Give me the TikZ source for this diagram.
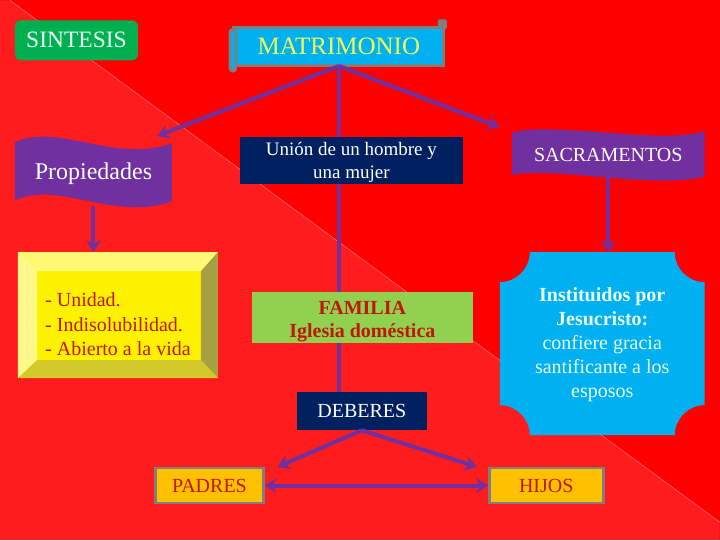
\documentclass[tikz,border=0pt]{standalone}
\usepackage{fontspec}
\setmainfont{Liberation Serif}
\usetikzlibrary{arrows.meta,calc}

\definecolor{fondo}{HTML}{FF0000}
\definecolor{fondoclaro}{HTML}{FF1C1C}
\definecolor{verde}{HTML}{00B050}
\definecolor{celeste}{HTML}{00B0F0}
\definecolor{gris}{HTML}{7F7F7F}
\definecolor{marino}{HTML}{002060}
\definecolor{morado}{HTML}{7030A0}
\definecolor{pasto}{HTML}{92D050}
\definecolor{naranja}{HTML}{FFC000}
\definecolor{rojotexto}{HTML}{C01800}
\definecolor{amarillotexto}{HTML}{EEFF55}
\definecolor{claro}{HTML}{E8FFF6}

\begin{document}
\begin{tikzpicture}[x=1pt,y=-1pt,
    caja/.style={inner sep=0pt,align=center,font=\fontsize{20}{24}\selectfont},
    titulo/.style={caja,font=\fontsize{24}{28}\selectfont},
    conector/.style={draw=morado,line width=4pt},
    flecha/.style={conector,-{Stealth[length=12pt,width=15pt]}}]

    % fondo
    \fill[fondo] (0,0) rectangle (720,540);
    \fill[fondoclaro] (10,0) -- (720,522) -- (720,540) -- (0,540) -- (0,0) -- cycle;
    \draw[white!40!fondo,line width=0.6pt] (10,0) -- (720,522);

    % formas
    \draw[gris,line width=3pt,fill=celeste] (234,27) rectangle (444,65);
    \draw[gris,line width=2.5pt,fill=celeste,rounded corners=3pt] (230,29) rectangle (236,71);
    \fill[gris,rounded corners=2pt] (438,19) rectangle (447,29);

    \fill[morado] (15,142) .. controls (60,122) and (115,164) .. (172,143)
        -- (172,201) .. controls (115,222) and (60,180) .. (15,200) -- cycle;
    \fill[morado] (512,133) .. controls (545,120) and (660,145) .. (705,131)
        -- (705,176) .. controls (660,190) and (545,165) .. (512,175) -- cycle;

    \fill[yellow] (18,252) rectangle (218,378);
    \fill[yellow!55!white] (18,252) -- (218,252) -- (201,271) -- (37,271) -- cycle;
    \fill[yellow!45!white] (18,252) -- (37,271) -- (37,360) -- (18,378) -- cycle;
    \fill[yellow!60!black] (218,252) -- (218,378) -- (201,360) -- (201,271) -- cycle;
    \fill[yellow!80!black] (18,378) -- (218,378) -- (201,360) -- (37,360) -- cycle;

    \fill[celeste] (530,252) -- (675,252) .. controls (675,268.5) and (688.5,282) .. (705,282)
        -- (705,405) .. controls (688.5,405) and (675,418.5) .. (675,435)
        -- (530,435) .. controls (530,418.5) and (516.5,405) .. (500,405)
        -- (500,282) .. controls (516.5,282) and (530,268.5) .. (530,252) -- cycle;

    % nodos
    \node[titulo,font=\fontsize{23.5}{28}\selectfont,fill=verde,rounded corners=6pt,text=claro,minimum width=123,minimum height=40] (sintesis) at (76.5,40) {SINTESIS};
    \node[titulo,font=\fontsize{25}{28}\selectfont,text=amarillotexto,minimum width=209,minimum height=39] (matri) at (339,46) {MATRIMONIO};
    \node[titulo,text=white,minimum width=157,minimum height=58] (prop) at (93.5,174) {Propiedades};
    \node[caja,text=white,minimum width=193,minimum height=44] (sac) at (608.5,155) {SACRAMENTOS};
    \node[caja,fill=marino,minimum width=223,minimum height=47] (union) at (351.5,160.5) {};
    \node[caja,text=white,font=\fontsize{19}{23}\selectfont] (uniontexto) at ([yshift=-2pt]union.center) {Unión de un hombre y\\una mujer};
    \node[caja,align=left,text=rojotexto,font=\fontsize{20}{24.5}\selectfont] (props) at (118,324) {- Unidad.\\- Indisolubilidad.\\- Abierto a la vida};
    \node[caja,fill=pasto,minimum width=221,minimum height=51] (familia) at (362.5,317.5) {};
    \node[caja,text=rojotexto,font=\bfseries\fontsize{20}{23}\selectfont] (familiatexto) at ([yshift=-4pt]familia.center) {FAMILIA\\Iglesia doméstica};
    \node[caja,text=claro] (sacdesc) at (602.5,345) {\textbf{Instituidos por}\\\textbf{Jesucristo:}\\confiere gracia\\santificante a los\\esposos};
    \node[caja,fill=marino,text=white,minimum width=130,minimum height=38] (deberes) at (362,411) {DEBERES};
    \node[caja,fill=naranja,draw=gris,line width=2.5pt,text=rojotexto,minimum width=108,minimum height=35] (padres) at (209.5,485.5) {PADRES};
    \node[caja,fill=naranja,draw=gris,line width=2.5pt,text=rojotexto,minimum width=114,minimum height=35] (hijos) at (546.5,485.5) {HIJOS};

    % conectores
    \draw[flecha] (matri.south) -- ([xshift=-15pt,yshift=9pt]prop.north east);
    \draw[flecha] (matri.south) -- ([xshift=-12pt,yshift=6pt]sac.north west);
    \draw[conector] (matri.south) -- (matri.south |- union.north);
    \draw[conector] (union.south -| matri.south) -- (familia.north -| matri.south);
    \draw[conector] (familia.south -| matri.south) -- (deberes.north -| matri.south);
    \draw[flecha] ([yshift=-3pt]prop.south) -- (93.5,252);
    \draw[flecha] (sac.south) -- (608.5,252);
    \draw[flecha] (deberes.south) -- ([xshift=13pt]padres.north east);
    \draw[flecha] (deberes.south) -- ([xshift=-11pt]hijos.north west);
    \draw[conector,{Stealth[length=12pt,width=15pt]}-{Stealth[length=12pt,width=15pt]}] (padres.east) -- (hijos.west);
\end{tikzpicture}
\end{document}
